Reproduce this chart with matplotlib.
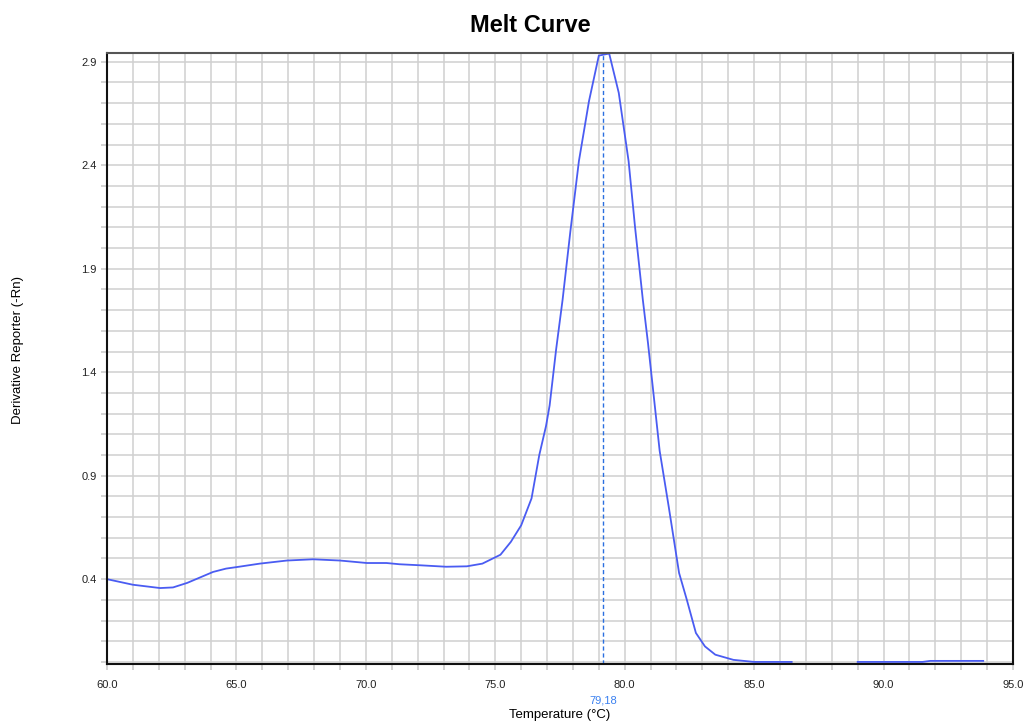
import matplotlib.pyplot as plt
import numpy as np

plt.rcParams['font.family'] = ['Liberation Sans', 'DejaVu Sans']

temperature = [60.0, 61.0, 62.05, 62.55, 63.1, 64.1, 64.6, 65.1, 65.9, 66.95,
               67.96, 69.0, 70.04, 70.8, 71.3, 72.1, 73.1, 73.9, 74.5, 75.2,
               75.6, 76.0, 76.4, 76.7, 76.96, 77.1, 77.35, 77.6, 77.9, 78.23,
               78.62, 79.0, 79.4, 79.77, 80.15, 80.4, 80.7, 80.9, 81.1, 81.35,
               81.7, 82.1, 82.4, 82.75, 83.1, 83.5, 84.2, 85.0, 86.45,
               87.7,
               89.0, 90.5, 91.5, 91.8, 93.0, 93.85]
derivative = [0.40, 0.373, 0.357, 0.36, 0.382, 0.435, 0.451, 0.46, 0.475, 0.49,
              0.496, 0.49, 0.478, 0.478, 0.472, 0.467, 0.46, 0.462, 0.475, 0.518,
              0.58, 0.66, 0.79, 1.0, 1.14, 1.24, 1.51, 1.75, 2.08, 2.42,
              2.71, 2.93, 2.94, 2.75, 2.42, 2.10, 1.75, 1.54, 1.31, 1.02,
              0.75, 0.43, 0.30, 0.14, 0.075, 0.035, 0.01, 0.0, 0.0,
              np.nan,
              0.0, 0.0, 0.0, 0.005, 0.005, 0.005]
tm = 79.18

fig = plt.figure(figsize=(10.24, 7.22), dpi=100)
ax = fig.add_axes([107 / 1024, 58 / 722, 906 / 1024, 611.3 / 722])

ax.plot(temperature, derivative, color='#4a5cf2', linewidth=1.3)
ax.axvline(tm, color='#2a6fe0', linestyle=(0, (3, 2)), linewidth=1.0)

ax.set_xlim(60, 95)
ax.set_ylim(-0.01, 2.944)
ax.set_xticks(np.arange(60, 95.1, 5))
ax.set_xticks(np.arange(60, 95.1, 1), minor=True)
ax.set_yticks([0.4, 0.9, 1.4, 1.9, 2.4, 2.9])
ax.set_yticks(np.arange(0, 2.95, 0.1), minor=True)
ax.set_xticklabels([f"{v:.1f}" for v in np.arange(60, 95.1, 5)])
ax.set_yticklabels(["0.4", "0.9", "1.4", "1.9", "2.4", "2.9"])

ax.grid(which='both', color='#d0d0d0', linewidth=1.1)
ax.set_axisbelow(True)
ax.tick_params(which='both', direction='out', length=4.5, width=1.1, color='#c8c8c8',
               labelsize=8, labelcolor='#222222', pad=7)
ax.tick_params(axis='y', which='both', pad=3)

for side in ['left', 'bottom', 'right']:
    ax.spines[side].set_color('#111111')
    ax.spines[side].set_linewidth(1.5)
ax.spines['top'].set_color('#555555')
ax.spines['top'].set_linewidth(1.5)

ax.text(tm, -0.185, "79,18", color='#3a80f0', fontsize=8, ha='center', va='center')
fig.text(560 / 1024, 1 - 715 / 722, "Temperature (°C)", fontsize=9.5, ha='center', va='center')
fig.text(18 / 1024, 1 - 350 / 722, "Derivative Reporter (-Rn)", fontsize=9.5,
         rotation=90, ha='center', va='center')
fig.text(530 / 1024, 1 - 25 / 722, "Melt Curve", fontsize=17, fontweight='bold',
         ha='center', va='center')

plt.savefig("out.png", dpi=100)
